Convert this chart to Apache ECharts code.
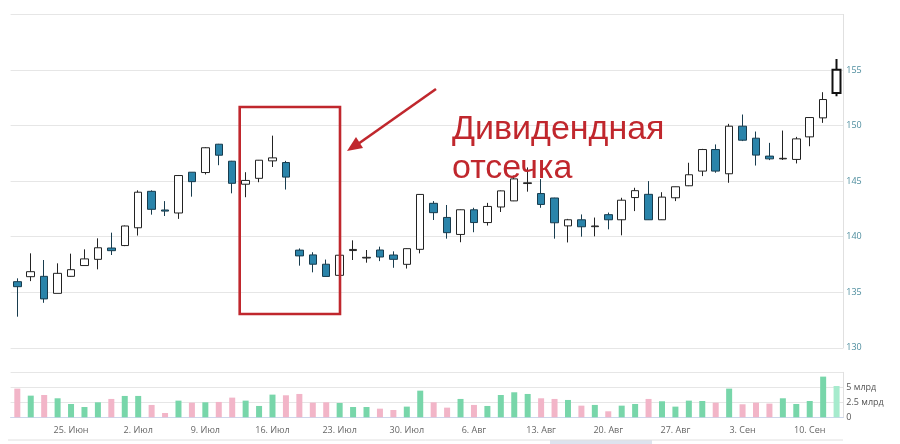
<!DOCTYPE html>
<html>
<head>
<meta charset="utf-8">
<title>Дивидендная отсечка</title>
<script src="https://cdn.jsdelivr.net/npm/echarts@6/dist/echarts.min.js"></script>
<style>
    html, body { margin: 0; padding: 0; background: #fff; }
    #main { width: 900px; height: 444px; }
</style>
</head>
<body>
<div id="main"></div>
<script>
// торговые дни
var dates = [
    '2018-06-19','2018-06-20','2018-06-21','2018-06-22',
    '2018-06-25','2018-06-26','2018-06-27','2018-06-28','2018-06-29',
    '2018-07-02','2018-07-03','2018-07-04','2018-07-05','2018-07-06',
    '2018-07-09','2018-07-10','2018-07-11','2018-07-12','2018-07-13',
    '2018-07-16','2018-07-17','2018-07-18','2018-07-19','2018-07-20',
    '2018-07-23','2018-07-24','2018-07-25','2018-07-26','2018-07-27',
    '2018-07-30','2018-07-31','2018-08-01','2018-08-02','2018-08-03',
    '2018-08-06','2018-08-07','2018-08-08','2018-08-09','2018-08-10',
    '2018-08-13','2018-08-14','2018-08-15','2018-08-16','2018-08-17',
    '2018-08-20','2018-08-21','2018-08-22','2018-08-23','2018-08-24',
    '2018-08-27','2018-08-28','2018-08-29','2018-08-30','2018-08-31',
    '2018-09-03','2018-09-04','2018-09-05','2018-09-06','2018-09-07',
    '2018-09-10','2018-09-11','2018-09-12'
];
var open = [
    135.95,136.4,136.43,134.9,
    136.43,137.4,137.96,138.98,139.2,
    140.8,144.08,142.4,142.13,145.8,
    145.77,148.32,146.79,144.72,145.25,
    146.82,146.67,138.79,138.36,137.52,
    136.52,138.75,138.08,138.8,138.35,
    137.51,138.86,143.0,141.73,140.2,
    142.42,141.27,142.67,143.22,144.78,
    143.88,143.48,140.97,141.52,140.9,
    141.98,141.52,143.52,143.81,141.52,
    143.5,144.58,145.9,147.84,145.66,
    149.94,148.86,147.25,147.0,146.95,
    148.98,150.69,152.93
];
var close = [
    135.5,136.85,134.4,136.7,
    137.03,138.0,139.0,138.74,140.96,
    144.0,142.46,142.3,145.5,144.95,
    148.0,147.33,144.8,145.06,146.88,
    147.09,145.36,138.27,137.52,136.42,
    138.33,138.85,138.14,138.17,137.96,
    138.92,143.8,142.16,140.36,142.42,
    141.27,142.72,144.12,145.2,144.85,
    142.9,141.25,141.52,140.89,140.96,
    141.52,143.28,144.14,141.52,143.56,
    144.49,145.57,147.84,145.9,149.94,
    148.68,147.34,147.0,147.05,148.8,
    150.72,152.34,155.03
];
var low = [
    132.8,136.0,134.05,134.9,
    136.4,137.4,137.06,138.35,139.15,
    140.1,141.98,141.86,141.6,143.6,
    145.6,146.43,143.9,143.55,144.9,
    146.27,144.24,137.39,136.79,136.42,
    136.45,137.9,137.66,137.8,137.2,
    137.13,138.5,141.5,139.82,139.5,
    140.4,141.0,142.22,143.2,144.05,
    142.6,139.82,139.48,140.0,140.03,
    140.66,140.12,142.3,141.5,141.5,
    143.2,144.55,145.45,145.75,144.85,
    148.6,146.4,146.89,146.9,146.59,
    148.14,150.24,152.63
];
var high = [
    136.25,138.5,137.9,137.6,
    138.47,138.86,139.85,140.36,141.0,
    144.17,144.17,143.2,145.55,145.8,
    148.05,148.35,146.82,145.8,146.9,
    149.09,146.82,138.94,138.6,137.94,
    138.35,139.67,138.8,139.1,138.68,
    138.95,143.82,143.2,142.85,142.45,
    142.6,143.04,144.15,145.5,146.23,
    145.18,143.5,141.6,142.0,141.72,
    142.17,143.5,144.4,145.0,144.0,
    144.5,146.65,147.9,148.3,150.15,
    150.99,149.46,148.44,149.55,148.98,
    150.75,153.0,155.99
];
// объём, млрд
var volume = [
    4.78,3.61,3.72,3.17,
    2.22,1.72,2.5,3.06,3.56,
    3.56,2.06,0.72,2.78,2.44,
    2.5,2.56,3.28,2.78,1.89,
    3.78,3.67,3.89,2.44,2.5,
    2.39,1.72,1.72,1.44,1.22,
    1.78,4.44,2.5,1.61,3.06,
    2.06,1.89,3.72,4.17,3.89,
    3.17,3.06,2.89,1.94,2.06,
    1.0,1.94,2.22,3.06,2.67,
    1.78,2.78,2.72,2.44,4.78,
    2.17,2.44,2.28,3.17,2.22,
    2.72,6.78,5.22
];
var priceTicks = [130, 160, 5];
var volumeTicks = [0, 7.5, 2.5];
var months = ['Янв','Фев','Мар','Апр','Май','Июн','Июл','Авг','Сен','Окт','Ноя','Дек'];

(function (win) {
    var page = {
        init: function () {
            this.chart = echarts.init(document.getElementById('main'));
            this.chart.setOption(this.buildOption());
        },
        isMonday: function (index, value) {
            var p = value.split('-');
            return new Date(Date.UTC(+p[0], +p[1] - 1, +p[2])).getUTCDay() === 1;
        },
        buildOption: function () {
            var _this = this;
            var last = dates.length - 1;
            var candles = [];
            var bars = [];
            for (var i = 0; i < dates.length; i++) {
                var ohlc = [open[i], close[i], low[i], high[i]];
                if (i === last) {
                    candles.push({ value: ohlc, itemStyle: { borderWidth: 2, borderColor: '#111' } });
                } else {
                    candles.push(ohlc);
                }
                var col = close[i] >= open[i] ? '#78d6aa' : '#f2b5c8';
                if (i === last) col = '#a6ebcd';
                bars.push({ value: volume[i], itemStyle: { color: col } });
            }
            var red = '#c0272d';
            var font = '"Open Sans", "Liberation Sans", sans-serif';

            return {
                animation: false,
                backgroundColor: '#fff',
                grid: [
                    { left: 10.6, right: 56.7, top: 14.4, height: 333.4 },
                    { left: 10.6, right: 56.7, top: 372.3, height: 45 }
                ],
                xAxis: [{
                    type: 'category',
                    gridIndex: 0,
                    data: dates,
                    boundaryGap: true,
                    axisLine: { show: false },
                    axisTick: { show: false },
                    axisLabel: { show: false },
                    splitLine: { show: false }
                }, {
                    type: 'category',
                    gridIndex: 1,
                    data: dates,
                    boundaryGap: true,
                    offset: 4,
                    axisLine: { lineStyle: { color: '#ccd6eb' } },
                    axisTick: {
                        alignWithLabel: true,
                        interval: function (index, value) { return _this.isMonday(index, value); },
                        length: 6,
                        lineStyle: { color: '#ccd6eb' }
                    },
                    axisLabel: {
                        interval: function (index, value) { return _this.isMonday(index, value); },
                        margin: 5,
                        color: '#666',
                        fontFamily: font,
                        fontSize: 9,
                        formatter: function (value) {
                            var p = value.split('-');
                            return (+p[2]) + '. ' + months[+p[1] - 1];
                        }
                    },
                    splitLine: { show: false }
                }],
                yAxis: [{
                    type: 'value',
                    gridIndex: 0,
                    position: 'right',
                    min: priceTicks[0],
                    max: priceTicks[1],
                    interval: priceTicks[2],
                    axisLine: { show: true, lineStyle: { color: '#e0e0e0' } },
                    axisTick: { show: false },
                    axisLabel: {
                        margin: 3,
                        color: '#4e8d9e',
                        fontFamily: font,
                        fontSize: 9,
                        showMaxLabel: false
                    },
                    splitLine: { lineStyle: { color: '#e6e6e6' } }
                }, {
                    type: 'value',
                    gridIndex: 1,
                    position: 'right',
                    min: volumeTicks[0],
                    max: volumeTicks[1],
                    interval: volumeTicks[2],
                    axisLine: { show: true, lineStyle: { color: '#e0e0e0' } },
                    axisTick: { show: false },
                    axisLabel: {
                        margin: 3,
                        color: '#555',
                        fontFamily: font,
                        fontSize: 9,
                        showMaxLabel: false,
                        formatter: function (v) { return v === 0 ? '0' : v + ' млрд'; }
                    },
                    splitLine: { lineStyle: { color: '#e6e6e6' } }
                }],
                series: [{
                    type: 'candlestick',
                    xAxisIndex: 0,
                    yAxisIndex: 0,
                    barWidth: 8,
                    data: candles,
                    itemStyle: {
                        color: '#ffffff',
                        color0: '#2a84aa',
                        borderColor: '#222',
                        borderColor0: '#183c4e',
                        borderWidth: 1
                    }
                }, {
                    type: 'bar',
                    xAxisIndex: 1,
                    yAxisIndex: 1,
                    barWidth: 6,
                    data: bars
                }],
                // аннотация: рамка, стрелка, подпись
                graphic: [{
                    type: 'rect',
                    shape: { x: 239.7, y: 107, width: 100.3, height: 207 },
                    style: { fill: null, stroke: red, lineWidth: 2.6 },
                    z: 100
                }, {
                    type: 'line',
                    shape: { x1: 436, y1: 89, x2: 358, y2: 144 },
                    style: { stroke: red, lineWidth: 2.6 },
                    z: 100
                }, {
                    type: 'polygon',
                    shape: { points: [[347, 151], [363, 148], [356, 137]] },
                    style: { fill: red },
                    z: 100
                }, {
                    type: 'text',
                    style: { text: 'Дивидендная', x: 452, y: 113, fill: red,
                        font: '34px "Liberation Sans", Arial, sans-serif', verticalAlign: 'alphabetic' },
                    z: 100
                }, {
                    type: 'text',
                    style: { text: 'отсечка', x: 452, y: 152, fill: red,
                        font: '34px "Liberation Sans", Arial, sans-serif', verticalAlign: 'alphabetic' },
                    z: 100
                }, {
                    type: 'rect',
                    shape: { x: 550, y: 440, width: 102, height: 4 },
                    style: { fill: '#dde3ee' }
                }, {
                    type: 'line',
                    shape: { x1: 8, y1: 440, x2: 843, y2: 440 },
                    style: { stroke: '#e0e0e0', lineWidth: 1 }
                }]
            };
        }
    };
    page.init();
})(window);
</script>
</body>
</html>
